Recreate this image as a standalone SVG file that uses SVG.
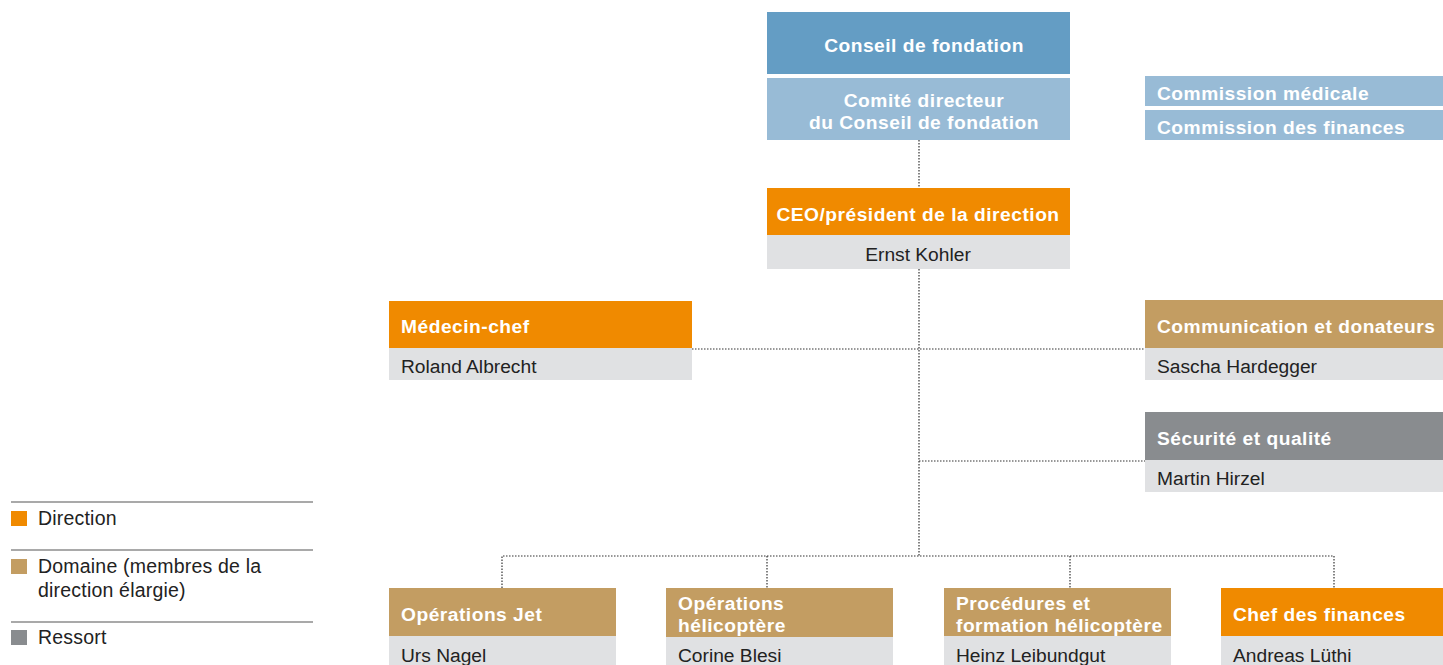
<svg xmlns="http://www.w3.org/2000/svg" width="1443" height="665" viewBox="0 0 1443 665">
<style>
.h{font-family:"Liberation Sans",Arial,sans-serif;font-weight:bold;font-size:19.2px;letter-spacing:0.5px;fill:#fff}
.n{font-family:"Liberation Sans",Arial,sans-serif;font-size:19.2px;fill:#222}
.l{font-family:"Liberation Sans",Arial,sans-serif;font-size:19.5px;letter-spacing:0.2px;fill:#222}
.c{text-anchor:middle}
.dir{fill:#f08a00}.dom{fill:#c39d62}.res{fill:#898c8f}.nm{fill:#e0e1e3}
.b1{fill:#649dc4}.b2{fill:#98bbd6}
.con{fill:none;stroke:#333;stroke-width:1.2;stroke-dasharray:1.5 1.5}
.lg{stroke:#555;stroke-width:1.2}
</style>
<rect width="1443" height="665" fill="#fff"/>
<g id="connectors">
<path class="con" d="M919 140V188"/>
<path class="con" d="M919 269V556"/>
<path class="con" d="M692 349H1145"/>
<path class="con" d="M919 461H1145"/>
<path class="con" d="M502 588V556H1334V588"/>
<path class="con" d="M767 556V588"/>
<path class="con" d="M1070 556V588"/>
</g>
<g id="conseil">
<rect class="b1" x="767" y="12" width="303" height="62"/>
<text class="h c" x="924" y="52">Conseil de fondation</text>
</g>
<g id="comite">
<rect class="b2" x="767" y="78" width="303" height="62"/>
<text class="h c" x="924" y="107">Comité directeur</text>
<text class="h c" x="924" y="129">du Conseil de fondation</text>
</g>
<g id="commission-medicale">
<rect class="b2" x="1145" y="76" width="298" height="30"/>
<text class="h" x="1157" y="100">Commission médicale</text>
</g>
<g id="commission-finances">
<rect class="b2" x="1145" y="110" width="298" height="30"/>
<text class="h" x="1157" y="134">Commission des finances</text>
</g>
<g id="ceo">
<rect class="dir" x="767" y="188" width="303" height="47"/>
<text class="h c" x="918" y="221">CEO/président de la direction</text>
<rect class="nm" x="767" y="235" width="303" height="34"/>
<text class="n c" x="918" y="261">Ernst Kohler</text>
</g>
<g id="medecin">
<rect class="dir" x="389" y="301" width="303" height="47"/>
<text class="h" x="401" y="333">Médecin-chef</text>
<rect class="nm" x="389" y="348" width="303" height="32"/>
<text class="n" x="401" y="373">Roland Albrecht</text>
</g>
<g id="communication">
<rect class="dom" x="1145" y="300" width="298" height="48"/>
<text class="h" x="1157" y="333">Communication et donateurs</text>
<rect class="nm" x="1145" y="348" width="298" height="32"/>
<text class="n" x="1157" y="373">Sascha Hardegger</text>
</g>
<g id="securite">
<rect class="res" x="1145" y="412" width="298" height="48"/>
<text class="h" x="1157" y="445">Sécurité et qualité</text>
<rect class="nm" x="1145" y="460" width="298" height="32"/>
<text class="n" x="1157" y="485">Martin Hirzel</text>
</g>
<g id="operations-jet">
<rect class="dom" x="389" y="588" width="227" height="48"/>
<text class="h" x="401" y="621">Opérations Jet</text>
<rect class="nm" x="389" y="636" width="227" height="29"/>
<text class="n" x="401" y="662">Urs Nagel</text>
</g>
<g id="operations-helico">
<rect class="dom" x="666" y="588" width="227" height="49"/>
<text class="h" x="678" y="610">Opérations</text>
<text class="h" x="678" y="632">hélicoptère</text>
<rect class="nm" x="666" y="637" width="227" height="28"/>
<text class="n" x="678" y="662">Corine Blesi</text>
</g>
<g id="procedures">
<rect class="dom" x="944" y="588" width="227" height="48"/>
<text class="h" x="956" y="610">Procédures et</text>
<text class="h" x="956" y="632">formation hélicoptère</text>
<rect class="nm" x="944" y="636" width="227" height="29"/>
<text class="n" x="956" y="662">Heinz Leibundgut</text>
</g>
<g id="chef-finances">
<rect class="dir" x="1221" y="588" width="222" height="48"/>
<text class="h" x="1233" y="621">Chef des finances</text>
<rect class="nm" x="1221" y="636" width="222" height="29"/>
<text class="n" x="1233" y="662">Andreas Lüthi</text>
</g>
<g id="legend">
<line class="lg" x1="11" y1="502" x2="313" y2="502"/>
<rect class="dir" x="11" y="511" width="16" height="15"/>
<text class="l" x="38" y="525">Direction</text>
<line class="lg" x1="11" y1="550" x2="313" y2="550"/>
<rect class="dom" x="11" y="559" width="16" height="15"/>
<text class="l" x="38" y="573">Domaine (membres de la</text>
<text class="l" x="38" y="597">direction élargie)</text>
<line class="lg" x1="11" y1="622" x2="313" y2="622"/>
<rect class="res" x="11" y="630" width="16" height="15"/>
<text class="l" x="38" y="644">Ressort</text>
</g>
</svg>
